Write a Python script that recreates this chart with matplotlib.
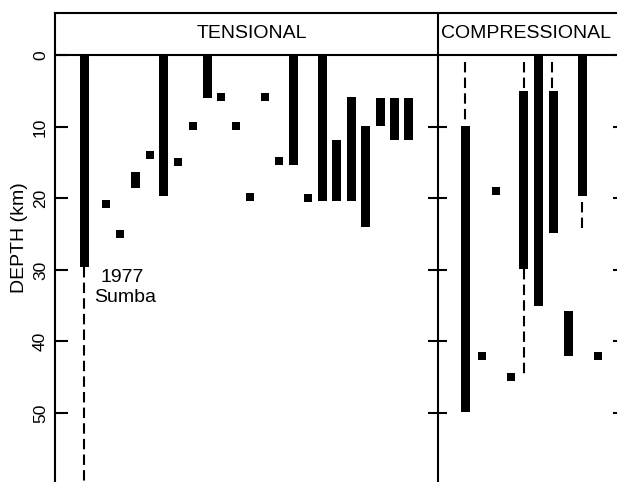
import matplotlib
matplotlib.use('Agg')
import matplotlib.pyplot as plt

plt.rcParams['font.family'] = ['Liberation Sans', 'DejaVu Sans']

# horizontal slot of each event (arbitrary layout units), depths in km
# tensional events
ten_bar_x = [84, 135, 163.5, 207, 293.5, 322, 336.5, 351, 365.5, 380, 394, 408]
ten_bar_top = [0, 16.3, 0, 0, 0, 0, 11.8, 5.8, 9.9, 5.9, 5.9, 5.9]
ten_bar_bot = [29.6, 18.6, 19.7, 5.9, 15.3, 20.3, 20.3, 20.3, 24, 9.9, 11.8, 11.8]
ten_pt_x = [106, 119.7, 149.5, 178, 192.8, 221.3, 236.3, 250.3, 264.7, 279, 307.8]
ten_pt_depth = [20.8, 24.9, 13.9, 14.9, 9.9, 5.8, 9.9, 19.8, 5.8, 14.8, 19.9]

# compressional events
com_bar_x = [465.5, 523.5, 538.5, 553, 568.5, 582.5]
com_bar_top = [9.9, 4.9, 0, 4.9, 35.8, 0]
com_bar_bot = [49.9, 29.9, 35, 24.8, 42, 19.7]
com_pt_x = [481.5, 495.5, 511, 597.5]
com_pt_depth = [42, 19, 44.9, 42]

# uncertain extensions (dashed)
dash_x = [84, 465.3, 523.5, 523.5, 552, 582]
dash_top = [29.6, 0.9, 0.9, 29.9, 0.9, 20.5]
dash_bot = [60, 9.3, 4.9, 45.1, 4.9, 24.1]

yticks = [0, 10, 20, 30, 40, 50]
x_left, x_div, x_right = 55, 438, 625
depth_top, depth_bot = -5.94, 59.65

fig = plt.figure(figsize=(6.17, 4.82), dpi=100)
ax = fig.add_axes([x_left / 617, 0, (x_right - x_left) / 617, 1 - 13 / 482])
ax.set_xlim(x_left, x_right)
ax.set_ylim(depth_bot, depth_top)

bw = 9
ax.bar(ten_bar_x, [b - t for t, b in zip(ten_bar_top, ten_bar_bot)], bottom=ten_bar_top,
       width=bw, color='black', linewidth=0)
ax.bar(com_bar_x, [b - t for t, b in zip(com_bar_top, com_bar_bot)], bottom=com_bar_top,
       width=bw, color='black', linewidth=0)
ax.scatter(ten_pt_x, ten_pt_depth, marker='s', s=40, color='black', linewidths=0)
ax.scatter(com_pt_x, com_pt_depth, marker='s', s=40, color='black', linewidths=0)
ax.vlines(dash_x, dash_top, dash_bot, colors='black', linewidth=1.5,
          linestyles=(0, (5, 2.5)))

# header band and panel divider
ax.axhline(0, color='black', lw=1.5)
ax.axvline(x_div, color='black', lw=1.5)
ax.hlines(yticks[1:], x_div - 10, x_div + 9, color='black', lw=1.5)
ax.text(252, -3.1, 'TENSIONAL', ha='center', va='center', fontsize=14)
ax.text(525.5, -3.1, 'COMPRESSIONAL', ha='center', va='center', fontsize=14)

ax.text(100, 31.1, '1977', ha='left', va='center', fontsize=14)
ax.text(94, 33.9, 'Sumba', ha='left', va='center', fontsize=14)

for s in ['left', 'top', 'right']:
    ax.spines[s].set_linewidth(1.5)
ax.spines['bottom'].set_visible(False)
ax.set_xticks([])
ax.set_yticks(yticks)
ax.set_yticklabels([str(v) for v in yticks], rotation=90, va='center', fontsize=12.5)
ax.tick_params(axis='y', direction='in', length=9, width=1.5, pad=5, right=True)

fig.text(20 / 617, 1 - 238 / 482, 'DEPTH (km)', rotation=90, ha='center', va='center',
         fontsize=14)

fig.savefig('out.png', dpi=100)
